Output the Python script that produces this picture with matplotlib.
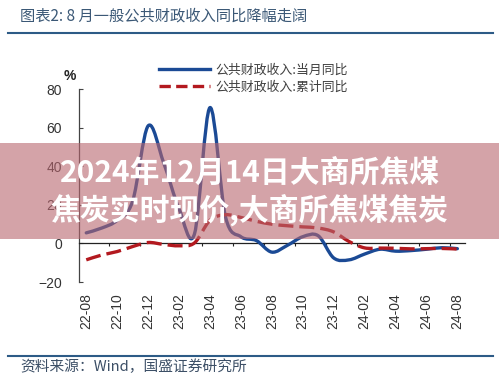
import matplotlib
matplotlib.use("Agg")
import matplotlib.pyplot as plt
import numpy as np
from matplotlib.lines import Line2D
from matplotlib.patches import PathPatch, Rectangle
from matplotlib.path import Path

CJK = ["Noto Sans CJK SC", "DejaVu Sans"]
plt.rcParams["font.family"] = ["Liberation Sans", "Noto Sans CJK SC", "DejaVu Sans"]

# monthly points 22-08 .. 24-08
tick_labels = ["22-08", "22-10", "22-12", "23-02", "23-04", "23-06", "23-08",
               "23-10", "23-12", "24-02", "24-04", "24-06", "24-08"]
monthly_yoy = [5.5, 8, 12, 22, 61, 42, 18, 5, 70.5, 14, 3.5, 1.5, -4.5,
               -1, 3.5, 4, -7.5, -8.5, -5.5, -3, -4, -3.7, -3, -2.2, -2.7]
cumulative_yoy = [-8.5, -6, -4.2, -1.6, 0.5, -0.5, -1.2, 0.3, 12, 14.9, 13.5,
                  11.5, 10, 9.2, 8.6, 8, 6, 1, -2.3, -2.4, -2.5, -2.8, -2.7,
                  -2.6, -2.9]
legend_labels = ["公共财政收入:当月同比", "公共财政收入:累计同比"]

BLUE = "#1b4a95"
RED = "#b3191f"
W, H = 499, 382


def smooth_path(xs, ys):
    # Excel-like smoothed line: cubic bezier through every data point
    n = len(xs)
    verts = [(xs[0], ys[0])]
    codes = [Path.MOVETO]
    for i in range(n - 1):
        a = max(i - 1, 0)
        b = min(i + 2, n - 1)
        c1 = (xs[i] + (xs[i + 1] - xs[a]) / 6, ys[i] + (ys[i + 1] - ys[a]) / 6)
        c2 = (xs[i + 1] - (xs[b] - xs[i]) / 6, ys[i + 1] - (ys[b] - ys[i]) / 6)
        verts += [c1, c2, (xs[i + 1], ys[i + 1])]
        codes += [Path.CURVE4] * 3
    return Path(verts, codes)


fig = plt.figure(figsize=(W / 100, H / 100), dpi=100)
fig.patch.set_facecolor("white")
ax = fig.add_axes([79.3 / W, 1 - 282 / H, (465.1 - 79.3) / W, (282 - 89.3) / H])

x = np.arange(len(monthly_yoy))
ax.add_patch(PathPatch(smooth_path(x, monthly_yoy), fill=False, edgecolor=BLUE,
                       lw=2.4, capstyle="round", joinstyle="round", zorder=3))
ax.add_patch(PathPatch(smooth_path(x, cumulative_yoy), fill=False, edgecolor=RED,
                       lw=2.4, linestyle=(0, (4.5, 1.8)), zorder=4))

ax.set_xlim(-0.45, 24.5)
ax.set_ylim(-20, 80)
ax.set_yticks(range(-20, 81, 20))
ax.set_xticks(range(0, 25, 2))
ax.set_xticklabels(tick_labels)
ax.set_xticks(np.arange(1.5, 24, 2), minor=True)

for s in ("top", "right"):
    ax.spines[s].set_visible(False)
ax.spines["bottom"].set_position(("data", 0))
ax.spines["bottom"].set_color("#222222")
ax.spines["bottom"].set_linewidth(0.9)
ax.spines["left"].set_color("#444444")
ax.spines["left"].set_linewidth(0.9)

ax.tick_params(axis="x", which="major", length=0, pad=35.6, labelrotation=90,
               labelsize=10, labelcolor="#333333")
ax.tick_params(axis="x", which="minor", length=2.5, width=0.8, direction="out",
               color="#222222")
ax.tick_params(axis="y", direction="in", length=3, width=0.8, pad=12.5,
               labelsize=10, labelcolor="#333333", color="#444444")

fig.text(70 / W, 1 - 76 / H, "%", fontsize=10, fontweight="bold", ha="center",
         va="center", color="#222222")

handles = [Line2D([], [], color=BLUE, lw=2.4),
           Line2D([], [], color=RED, lw=2.4, linestyle=(0, (3.4, 1.6)))]
fig.legend(handles, legend_labels, loc="upper left",
           bbox_to_anchor=(153 / W, 1 - 57 / H), frameon=False, borderpad=0,
           handlelength=3.9, handletextpad=0.4, labelspacing=0.35,
           prop={"family": CJK, "size": 9.3}, labelcolor="#404040")

# header and footer
fig.text(20 / W, 1 - 16 / H, "图表2: 8 月一般公共财政收入同比降幅走阔",
         family=CJK, fontsize=11, color="#3b5876", ha="left", va="center")
fig.add_artist(Line2D([8 / W, 493 / W], [1 - 33.3 / H, 1 - 33.3 / H],
                      color="#2d5b86", lw=1.5))
fig.add_artist(Line2D([8 / W, 493 / W], [1 - 356 / H, 1 - 356 / H],
                      color="#2d5b86", lw=1.5))
fig.text(20 / W, 1 - 367 / H, "资料来源：Wind，国盛证券研究所",
         family=CJK, fontsize=10.6, color="#3c4f66", ha="left", va="center")

# overlay banner
fig.add_artist(Rectangle((0, 1 - 239 / H), 1, (239 - 143.3) / H,
                         transform=fig.transFigure, facecolor="#b8666f",
                         alpha=0.6, edgecolor="none", zorder=5))
fig.text(250 / W, 1 - 173 / H, "2024年12月14日大商所焦煤", family=CJK,
         fontsize=21.5, fontweight="bold", color="white", ha="center",
         va="center", zorder=6)
fig.text(249 / W, 1 - 210 / H, "焦炭实时现价,大商所焦煤焦炭", family=CJK,
         fontsize=21.5, fontweight="bold", color="white", ha="center",
         va="center", zorder=6)

fig.savefig("out.png", dpi=100)
